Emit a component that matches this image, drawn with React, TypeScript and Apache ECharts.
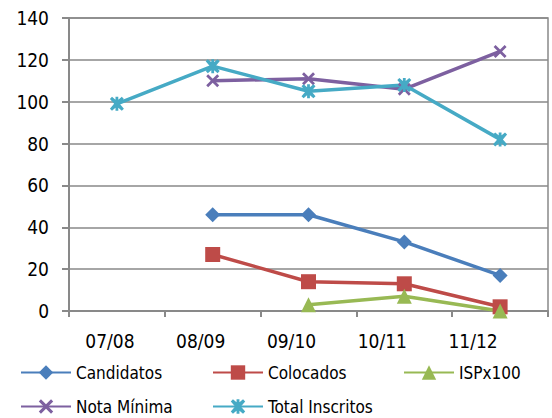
import React, { useEffect, useRef } from "react";
import * as echarts from "echarts";

const categories = ["07/08", "08/09", "09/10", "10/11", "11/12"];
const candidatos = [null, 46, 46, 33, 17];
const colocados = [null, 27, 14, 13, 2];
const ispx100 = [null, null, 3, 7, 0];
const notaMinima = [null, 110, 111, 106, 124];
const totalInscritos = [99, 117, 105, 108, 82];
const yTicks = [0, 20, 40, 60, 80, 100, 120, 140];

const FONT = "'Liberation Sans Narrow', 'DejaVu Sans Condensed', 'Liberation Sans', sans-serif";

// category labels sit progressively left of their slot centres
const labelShift = [7, 12, 17, 22, 27];

const crossPath =
  "path://M1.5,0 L5,3.5 L8.5,0 L10,1.5 L6.5,5 L10,8.5 L8.5,10 L5,6.5 L1.5,10 L0,8.5 L3.5,5 L0,1.5 Z";
const starPath =
  "path://M1.5,0 L5,3 L8.5,0 L10,1.5 L7,5 L10,8.5 L8.5,10 L5,7 L1.5,10 L0,8.5 L3,5 L0,1.5 Z M4,0 L6,0 L6,10 L4,10 Z";

type S = { name: string; data: (number | null)[]; color: string; symbol: string; size: number };
const seriesDefs: S[] = [
  { name: "Candidatos", data: candidatos, color: "#4a7ebb", symbol: "diamond", size: 15 },
  { name: "Colocados", data: colocados, color: "#be4b48", symbol: "rect", size: 15 },
  { name: "ISPx100", data: ispx100, color: "#98b954", symbol: "triangle", size: 15 },
  { name: "Nota Mínima", data: notaMinima, color: "#7d60a0", symbol: crossPath, size: 13 },
  { name: "Total Inscritos", data: totalInscritos, color: "#46aac5", symbol: starPath, size: 14 },
];

const legendPos = [
  { left: 15, top: 359 },
  { left: 207, top: 359 },
  { left: 398, top: 359 },
  { left: 15, top: 393 },
  { left: 207, top: 393 },
];

const rich: Record<string, any> = {};
labelShift.forEach((s, i) => {
  rich["c" + i] = {
    fontFamily: FONT,
    fontSize: 19,
    color: "#000",
    padding: [0, s * 2, 0, 0],
  };
});

export default function App() {
  const ref = useRef<HTMLDivElement>(null);
  useEffect(() => {
    if (!ref.current) return;
    const chart = echarts.init(ref.current, null, { renderer: "svg" });
    chart.setOption({
      animation: false,
      backgroundColor: "#ffffff",
      grid: {
        left: 69,
        right: 4,
        top: 18,
        bottom: 107,
        show: true,
        borderColor: "#898989",
        borderWidth: 1.5,
      },
      legend: seriesDefs.map((s, i) => ({
        data: [s.name],
        left: legendPos[i].left,
        top: legendPos[i].top,
        itemWidth: 50,
        itemHeight: 18,
        itemGap: 0,
        textStyle: { fontFamily: FONT, fontSize: 17, color: "#000" },
      })),
      xAxis: {
        type: "category",
        data: categories,
        boundaryGap: true,
        axisLine: { lineStyle: { color: "#898989", width: 2 } },
        axisTick: { show: true, interval: 0, length: 6, lineStyle: { color: "#898989", width: 2 } },
        axisLabel: {
          interval: 0,
          hideOverlap: false,
          fontFamily: FONT,
          fontSize: 19,
          color: "#000",
          margin: 20,
          formatter: (v: string, i: number) => `{c${i}|${v}}`,
          rich,
        },
      },
      yAxis: {
        type: "value",
        min: yTicks[0],
        max: yTicks[yTicks.length - 1],
        interval: 20,
        axisLine: { show: true, lineStyle: { color: "#898989", width: 2 } },
        axisTick: { show: true, length: 7, lineStyle: { color: "#898989", width: 2 } },
        splitLine: { lineStyle: { color: "#898989", width: 1.5 } },
        axisLabel: { fontFamily: FONT, fontSize: 19, color: "#000", margin: 20 },
      },
      series: seriesDefs.map((s) => ({
        name: s.name,
        type: "line",
        data: s.data,
        color: s.color,
        symbol: s.symbol,
        symbolSize: s.size,
        showSymbol: true,
        connectNulls: false,
        lineStyle: { width: 3.5, color: s.color },
        itemStyle: { color: s.color },
      })),
    });
    return () => chart.dispose();
  }, []);
  return <div ref={ref} style={{ width: 552, height: 418, position: "absolute", left: 0, top: 0 }} />;
}
